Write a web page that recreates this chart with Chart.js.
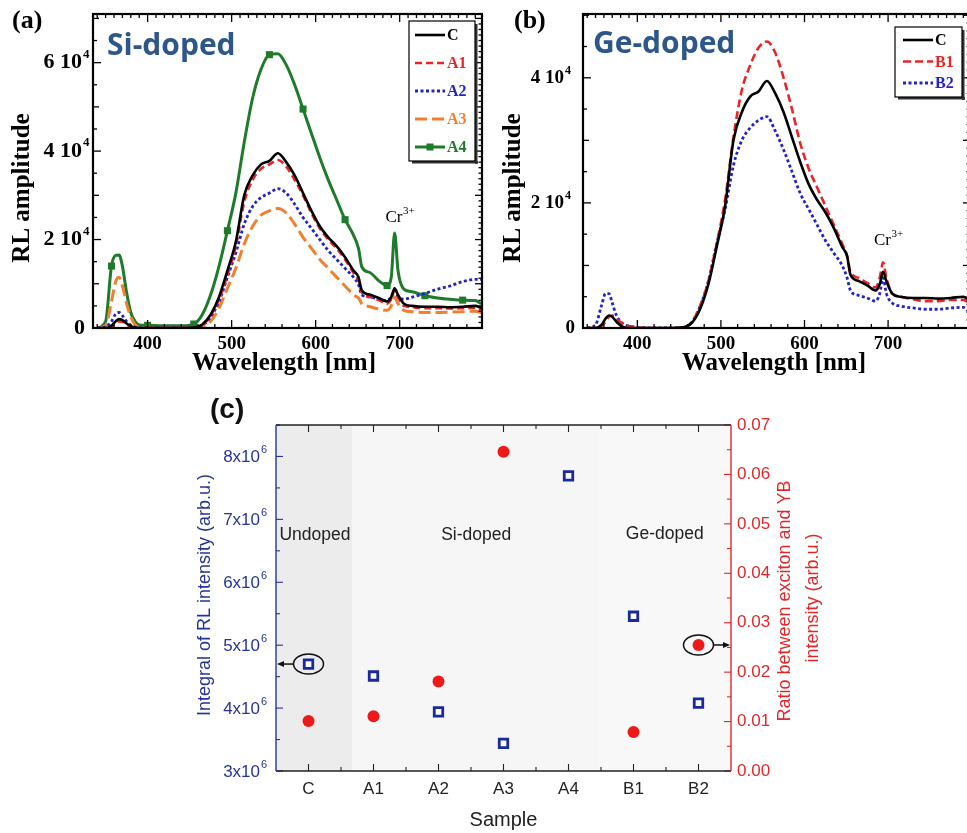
<!DOCTYPE html>
<html><head><meta charset="utf-8">
<script src="https://cdn.jsdelivr.net/npm/chart.js@4.4.0/dist/chart.umd.min.js"></script>
<style>
html,body{margin:0;padding:0;background:#fff;width:967px;height:833px;overflow:hidden;position:relative}
canvas{position:absolute}
#ca{left:0;top:0}
#cb{left:490px;top:0}
#cc{left:180px;top:390px}
</style></head><body>
<canvas id="ca" width="490" height="390"></canvas>
<canvas id="cb" width="490" height="390"></canvas>
<canvas id="cc" width="680" height="443"></canvas>
<script>
// ---------- data ----------
const wavelength = [340,350,357,362,366,370,375,380,385,390,400,420,440,455,465,475,485,495,505,515,525,535,545,555,565,575,585,595,605,615,625,635,645,651,655,665,675,685,690,694,698,705,715,730,745,760,775,790,797];
const C  = [0,0,500,1500,2000,1800,1000,400,100,0, 0,0,0,100,800,3000,7000,13000,19500,30000, 34500,37000,37800,39500,37500,34500,30500,26500,23000,20500, 18500,16000,13000,11500,8500,7500,6800,6000,7000,9000, 7500,5500,5000,4800,4800,4700,4800,5000,4500];
const A1 = [0,0,300,1000,1500,1400,800,300,100,0, 0,0,0,100,700,2800,6500,12000,18500,28500, 33500,36000,37000,38000,36500,33500,30000,26000,22500,20000, 18000,15500,12500,10800,8000,7000,6300,5500,6500,8500, 7000,5000,4700,4500,4500,4400,4500,4600,4000];
const A2 = [0,200,1500,3200,3500,2800,1500,600,200,0, 0,0,0,100,600,2500,6000,11500,17000,23500, 27500,29500,30500,31500,30500,28000,25000,22500,20000,17500, 15500,13500,11500,9800,7500,7000,6500,6200,7000,8500, 7200,6500,7000,7800,8800,9500,10500,11000,11000];
const A3 = [0,500,6000,10500,11500,9500,5500,2500,800,200, 0,0,0,0,300,1500,4500,9000,13500,19000, 23000,25500,26500,27000,26000,23500,20500,18000,15500,13500, 11500,9500,7500,6800,5500,4800,4300,4000,5000,7000, 5500,4000,3700,3500,3500,3600,3700,3800,3500];
const A4 = [0,1500,14000,16400,16500,14000,8000,3500,1500,700, 600,500,500,900,3000,7500,14000,22000,30500,42000, 52000,58500,61800,62000,59500,55000,49500,44000,38500,33500, 29000,24500,21000,18000,13800,12500,10700,9600,11500,21500, 13000,8800,8200,7300,6800,6500,6300,6200,5500];
const B1 = [0,0,300,1000,1800,2000,1500,900,500,300, 100,0,0,100,900,3500,7500,13500,20500,30500, 38000,42000,44800,45800,44000,40000,35000,29500,25500,22500, 19500,16500,13500,11500,9000,8000,7200,6500,8000,10500, 8000,5500,5000,4600,4300,4300,4500,4500,4000];
const B2 = [0,500,3500,5500,5500,4000,2000,1000,500,300, 100,0,0,100,900,3400,7500,13500,19000,26000, 30000,32000,33200,33800,31500,28500,25000,21500,19000,16500, 14000,12000,10000,8000,6000,5200,4800,4300,5500,8000, 5500,4000,3500,3200,3000,3000,3200,3300,2500];
const a4MarkerWl = [357,400,455,495,545,585,635,685,730,775];
const spectraXTicks = [400,500,600,700];
const siYTicks = [0,20000,40000,60000];
const geYTicks = [0,20000,40000];

const samples  = ['C','A1','A2','A3','A4','B1','B2'];
const integral = [4.70e6,4.51e6,3.94e6,3.44e6,7.69e6,5.46e6,4.08e6];
const ratio    = [0.0101,0.0111,0.0181,0.0646,null,0.0079,0.0255];
const integralTicks = [3e6,4e6,5e6,6e6,7e6,8e6];
const ratioTicks = [0,0.01,0.02,0.03,0.04,0.05,0.06,0.07];
const regionNames = ['Undoped','Si-doped','Ge-doped'];

// ---------- helpers ----------
const SERIF = "'Liberation Serif','Times New Roman',serif";
const SANS = "'Liberation Sans',Arial,sans-serif";
Chart.defaults.font.family = SANS;
Chart.defaults.animation = false;

function pts(ys){ return wavelength.map((w,i)=>({x:w,y:ys[i]})); }
function line(ctx,x1,y1,x2,y2){ctx.beginPath();ctx.moveTo(x1,y1);ctx.lineTo(x2,y2);ctx.stroke();}

function drawSci(ctx, mainText, supText, xRight, y, mainFont, supFont, raise){
  ctx.textBaseline='middle';
  ctx.font=mainFont; ctx.textAlign='right'; ctx.fillText(mainText, xRight, y);
  if (supText){ ctx.font=supFont; ctx.textAlign='left'; ctx.fillText(supText, xRight+1, y-raise); }
}

function spectraDecor(o){
  return {
    id:'decor',
    afterDraw(chart){
      const {ctx, chartArea:a} = chart; const xs=chart.scales.x, ys=chart.scales.y;
      ctx.save();
      ctx.strokeStyle='#000'; ctx.lineWidth=1.3; ctx.setLineDash([]);
      for (let v=340; v<=798; v+=20){ const p=xs.getPixelForValue(v); const L=(v%100===0)?8:4; line(ctx,p,a.bottom,p,a.bottom-L); }
      for (let v=340; v<=798; v+=10){ const p=xs.getPixelForValue(v); const L=(v%100===0)?8:4; line(ctx,p,a.top,p,a.top+L); }
      for (let v=0; v<=o.ymax; v+=5000){ const p=ys.getPixelForValue(v); const L=(v%20000===0)?8:(v%10000===0?6:4); line(ctx,a.left,p,a.left+L,p); }
      for (let v=0; v<=o.ymax; v+=1250){ const p=ys.getPixelForValue(v); const L=(v%10000===0)?7:3.5; line(ctx,a.right,p,a.right-L,p); }
      ctx.lineWidth=2.2; ctx.strokeRect(a.left,a.top,a.right-a.left,a.bottom-a.top);
      // y tick labels
      ctx.fillStyle='#000';
      o.yTicks.forEach(v=>{
        const p=ys.getPixelForValue(v);
        if (v===0){ drawSci(ctx,'0',null,o.zeroRight,p,o.yFont,o.ySup,0); }
        else drawSci(ctx,(v/1e4)+' 10','4',o.mainRight,p,o.yFont,o.ySup,o.supRaise);
      });
      // axis titles
      ctx.font="bold 25px "+SERIF; ctx.textAlign='center'; ctx.textBaseline='middle';
      ctx.fillText('Wavelength [nm]', 284, 364);
      ctx.save(); ctx.translate(o.yTitleX, 188); ctx.rotate(-Math.PI/2); ctx.fillText('RL amplitude',0,0); ctx.restore();
      // panel label
      ctx.font="bold 26px "+SERIF; ctx.textAlign='left'; ctx.textBaseline='alphabetic';
      ctx.fillText(o.panel, o.panelX, 28);
      // dopant title
      ctx.fillStyle='#2d5689'; ctx.font="bold 30px 'Open Sans',sans-serif";
      ctx.fillText(o.title, o.titleX, o.titleY);
      // Cr3+ label
      ctx.fillStyle='#000';
      const cx=xs.getPixelForValue(o.crAt[0]), cy=ys.getPixelForValue(o.crAt[1]);
      ctx.font="17px "+SERIF; ctx.fillText('Cr', cx, cy);
      const cw=ctx.measureText('Cr').width;
      ctx.font="11px "+SERIF; ctx.fillText('3+', cx+cw+0.5, cy-8);
      // legend
      const lg=o.legend;
      ctx.fillStyle='#333'; ctx.fillRect(lg.x+3, lg.y+lg.h, lg.w, 2.5); ctx.fillRect(lg.x+lg.w, lg.y+3, 2.5, lg.h);
      ctx.fillStyle='#fff'; ctx.fillRect(lg.x,lg.y,lg.w,lg.h);
      ctx.strokeStyle='#000'; ctx.lineWidth=1.2; ctx.strokeRect(lg.x,lg.y,lg.w,lg.h);
      chart.data.datasets.forEach((ds,k)=>{
        const yy=lg.y+lg.first+k*lg.step;
        ctx.strokeStyle=ds.borderColor; ctx.lineWidth=ds.borderWidth; ctx.setLineDash(ds.borderDash||[]);
        line(ctx, lg.x+lg.s0, yy, lg.x+lg.s1, yy);
        ctx.setLineDash([]);
        if (ds.markerWl){ ctx.fillStyle=ds.borderColor; ctx.fillRect((lg.x+(lg.s0+lg.s1)/2)-3.5, yy-3.5, 7, 7); }
        ctx.fillStyle=ds.borderColor; ctx.font="bold 16px "+SERIF; ctx.textAlign='left'; ctx.textBaseline='middle';
        ctx.fillText(ds.label, lg.x+lg.tx, yy+1);
      });
      ctx.restore();
    }
  };
}

function spectrumDs(label, ys, color, dash, width, markers){
  return {label, data:pts(ys), borderColor:color, backgroundColor:color, borderWidth:width, borderDash:dash,
    borderCapStyle:'butt', cubicInterpolationMode:'monotone', fill:false,
    markerWl: markers || null,
    pointStyle:'rect', pointBorderWidth:0, pointBackgroundColor:color,
    pointRadius: markers ? (c => (c.raw && markers.includes(c.raw.x)) ? 5 : 0) : 0};
}

function spectraChart(id, series, o){
  return new Chart(document.getElementById(id), {
    type:'line',
    data:{datasets:series},
    options:{
      responsive:false, animation:false, events:[],
      layout:{padding:{left:0, top:14, right:o.padRight, bottom:0}},
      plugins:{legend:{display:false}, tooltip:{enabled:false}},
      scales:{
        x:{type:'linear', min:335, max:798, grid:{display:false, drawTicks:false}, border:{display:false},
           afterBuildTicks:s=>{ s.ticks = spectraXTicks.map(v=>({value:v})); },
           ticks:{font:{family:SERIF, weight:'bold', size:o.xTickSize}, color:'#000', padding:o.xPad, maxRotation:0, autoSkip:false, callback:v=>String(v)},
           afterFit:s=>{ s.height=62; }},
        y:{type:'linear', min:0, max:o.ymax, grid:{display:false, drawTicks:false}, border:{display:false},
           afterBuildTicks:s=>{ s.ticks = o.yTicks.map(v=>({value:v})); },
           ticks:{display:false}, afterFit:s=>{ s.width=93; }}
      }
    },
    plugins:[spectraDecor(o)]
  });
}

const RED='#e6262b', BLUE='#2424c4', ORANGE='#f08030', GREEN='#1f7a2c';

spectraChart('ca', [
  spectrumDs('C', C, '#000', [], 2.6),
  spectrumDs('A1', A1, RED, [7,4], 2.6),
  spectrumDs('A2', A2, BLUE, [3,2.5], 2.8),
  spectrumDs('A3', A3, ORANGE, [12,5], 3),
  spectrumDs('A4', A4, GREEN, [], 3, a4MarkerWl)
], {padRight:8, ymax:71000, yTicks:siYTicks, xTickSize:19, xPad:5,
    yFont:"bold 22px "+SERIF, ySup:"bold 13px "+SERIF, mainRight:82, zeroRight:85, supRaise:8,
    yTitleX:23, panel:'(a)', panelX:12, title:'Si-doped', titleX:107, titleY:55, crAt:[683,24000],
    legend:{x:409,y:21,w:66,h:140,first:14,step:28,s0:6,s1:36,tx:38}});

spectraChart('cb', [
  spectrumDs('C', C, '#000', [], 2.6),
  spectrumDs('B1', B1, RED, [8,4], 2.6),
  spectrumDs('B2', B2, BLUE, [3,2.5], 2.8)
], {padRight:10, ymax:50200, yTicks:geYTicks, xTickSize:19, xPad:5,
    yFont:"bold 19px "+SERIF, ySup:"bold 12px "+SERIF, mainRight:74, zeroRight:85, supRaise:7,
    yTitleX:24, panel:'(b)', panelX:24, title:'Ge-doped', titleX:103, titleY:53, crAt:[683,13300],
    legend:{x:405,y:27,w:67,h:70,first:13,step:21.5,s0:8,s1:38,tx:40}});

// ---------- panel (c) ----------
const NAVY='#27358f', CRED='#e0282c';
const regionBounds = [-0.5, 0.67, 4.48, 6.5];
const regionColors = ['#ececec','#f6f6f6','#f8f8f8'];
const regionLabelAt = [[0.10,6.75e6],[2.58,6.75e6],[5.48,6.77e6]];

const cDecor = {
  id:'cdecor',
  beforeDatasetsDraw(chart){
    const {ctx, chartArea:a} = chart; const xs=chart.scales.x;
    ctx.save();
    for (let i=0;i<3;i++){
      const x1=Math.max(a.left, xs.getPixelForValue(regionBounds[i]));
      const x2=Math.min(a.right, xs.getPixelForValue(regionBounds[i+1]));
      ctx.fillStyle=regionColors[i]; ctx.fillRect(x1,a.top,x2-x1,a.bottom-a.top);
    }
    ctx.restore();
  },
  afterDraw(chart){
    const {ctx, chartArea:a} = chart; const xs=chart.scales.x, yl=chart.scales.y, yr=chart.scales.y1;
    ctx.save();
    // region labels
    ctx.fillStyle='#222'; ctx.font="17.5px "+SANS; ctx.textAlign='center'; ctx.textBaseline='middle';
    regionNames.forEach((n,i)=>ctx.fillText(n, xs.getPixelForValue(regionLabelAt[i][0]), yl.getPixelForValue(regionLabelAt[i][1])));
    // ticks
    ctx.lineWidth=1.1;
    ctx.strokeStyle='#222';
    for (let k=0;k<samples.length;k++){
      const p=xs.getPixelForValue(k); line(ctx,p,a.bottom,p,a.bottom-7); line(ctx,p,a.top,p,a.top+7);
      if (k<samples.length-1){ const q=xs.getPixelForValue(k+0.5); line(ctx,q,a.bottom,q,a.bottom-4); line(ctx,q,a.top,q,a.top+4); }
    }
    ctx.strokeStyle=NAVY;
    for (let v=3e6; v<=8.5e6+1; v+=5e5){ const p=yl.getPixelForValue(v); const L=(Math.round(v/5e5)%2===0)?7:4; line(ctx,a.left,p,a.left+L,p); }
    ctx.strokeStyle=CRED;
    for (let i=0;i<=14;i++){ const p=yr.getPixelForValue(i*0.005); const L=(i%2===0)?7:4; line(ctx,a.right,p,a.right-L,p); }
    // frame
    ctx.lineWidth=1.4;
    ctx.strokeStyle='#222'; line(ctx,a.left,a.top,a.right,a.top); line(ctx,a.left,a.bottom,a.right,a.bottom);
    ctx.strokeStyle=NAVY; line(ctx,a.left,a.top,a.left,a.bottom);
    ctx.strokeStyle=CRED; line(ctx,a.right,a.top,a.right,a.bottom);
    // left tick labels
    ctx.fillStyle=NAVY;
    integralTicks.forEach(v=>{
      const p=yl.getPixelForValue(v);
      drawSci(ctx,(v/1e6)+'x10','6',80,p+1,"17px "+SANS,"11px "+SANS,7);
    });
    // left title
    ctx.font="18px "+SANS; ctx.textAlign='center'; ctx.textBaseline='middle';
    ctx.save(); ctx.translate(25,(a.top+a.bottom)/2-3); ctx.rotate(-Math.PI/2); ctx.fillText('Integral of RL intensity (arb.u.)',0,0); ctx.restore();
    // right title
    ctx.fillStyle=CRED;
    ctx.save(); ctx.translate(605,(a.top+a.bottom)/2+3); ctx.rotate(-Math.PI/2); ctx.fillText('Ratio between exciton and YB',0,0); ctx.restore();
    ctx.save(); ctx.translate(633,(a.top+a.bottom)/2); ctx.rotate(-Math.PI/2); ctx.fillText('intensity (arb.u.)',0,0); ctx.restore();
    // x title
    ctx.fillStyle='#222'; ctx.font="20px "+SANS; ctx.fillText('Sample',(a.left+a.right)/2,430);
    // panel label
    ctx.fillStyle='#111'; ctx.font="bold 28px "+SANS; ctx.textAlign='left'; ctx.textBaseline='alphabetic';
    ctx.fillText('(c)',30,28);
    // ellipses + arrows
    ctx.strokeStyle='#111'; ctx.fillStyle='#111'; ctx.lineWidth=1.5;
    const e1x=xs.getPixelForValue(0), e1y=yl.getPixelForValue(integral[0]);
    ctx.beginPath(); ctx.ellipse(e1x,e1y,15,10,0,0,2*Math.PI); ctx.stroke();
    line(ctx,e1x-15,e1y,a.left+5,e1y);
    ctx.beginPath(); ctx.moveTo(a.left+1,e1y); ctx.lineTo(a.left+8,e1y-3); ctx.lineTo(a.left+8,e1y+3); ctx.closePath(); ctx.fill();
    const e2x=xs.getPixelForValue(6), e2y=yr.getPixelForValue(ratio[6]);
    ctx.beginPath(); ctx.ellipse(e2x,e2y,15,10,0,0,2*Math.PI); ctx.stroke();
    line(ctx,e2x+15,e2y,a.right-5,e2y);
    ctx.beginPath(); ctx.moveTo(a.right-1,e2y); ctx.lineTo(a.right-8,e2y-3); ctx.lineTo(a.right-8,e2y+3); ctx.closePath(); ctx.fill();
    ctx.restore();
  }
};

new Chart(document.getElementById('cc'), {
  type:'line',
  data:{labels:samples, datasets:[
    {label:'Integral of RL intensity', data:integral, yAxisID:'y', showLine:false, pointStyle:'rect', pointRadius:6, pointBorderWidth:2.8, pointBackgroundColor:'#fff', pointBorderColor:'#1a2a9c'},
    {label:'Ratio', data:ratio, yAxisID:'y1', showLine:false, pointStyle:'circle', pointRadius:6, pointBorderWidth:0, pointBackgroundColor:'#ee1a1a', pointBorderColor:'#ee1a1a'}
  ]},
  options:{
    responsive:false, animation:false, events:[],
    layout:{padding:{left:0, top:35, right:39, bottom:0}},
    plugins:{legend:{display:false}, tooltip:{enabled:false}},
    scales:{
      x:{type:'category', offset:true, grid:{display:false, drawTicks:false}, border:{display:false},
         ticks:{color:'#222', font:{size:17}, padding:8, maxRotation:0, autoSkip:false},
         afterFit:s=>{ s.height=62; }},
      y:{type:'linear', position:'left', min:3e6, max:8.5e6, grid:{display:false, drawTicks:false}, border:{display:false},
         afterBuildTicks:s=>{ s.ticks=integralTicks.map(v=>({value:v})); },
         ticks:{display:false}, afterFit:s=>{ s.width=96; }},
      y1:{type:'linear', position:'right', min:0, max:0.07, grid:{display:false, drawTicks:false}, border:{display:false},
         afterBuildTicks:s=>{ s.ticks=ratioTicks.map(v=>({value:v})); },
         ticks:{color:CRED, font:{size:17}, padding:6, callback:v=>v.toFixed(2)},
         afterFit:s=>{ s.width=90; }}
    }
  },
  plugins:[cDecor]
});
</script></body></html>
